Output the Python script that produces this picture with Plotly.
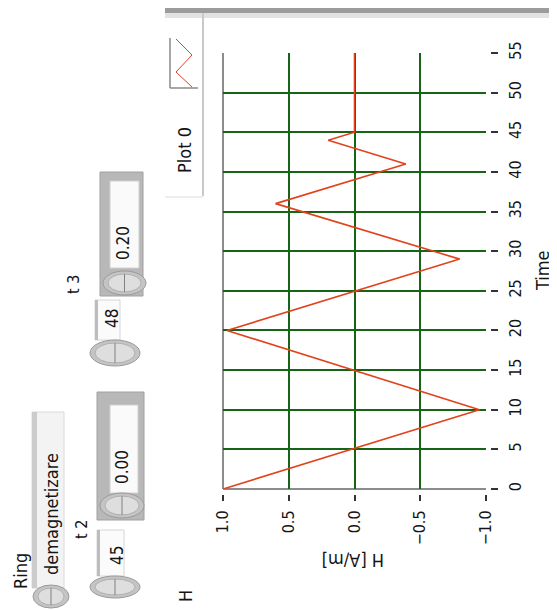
import plotly.graph_objects as go

# ---- data ----
time_vals = [0, 10, 20, 29, 36, 41, 44, 45, 55]
h_vals = [1.0, -0.95, 0.97, -0.80, 0.60, -0.39, 0.20, 0.0, 0.0]

h_ticks = [1.0, 0.5, 0.0, -0.5, -1.0]
h_ticktext = ["1.0", "0.5", "0.0", "\u22120.5", "\u22121.0"]
time_ticks = [0, 5, 10, 15, 20, 25, 30, 35, 40, 45, 50, 55]
h_grid = [0.5, 0.0, -0.5]
time_grid = [5, 10, 15, 20, 25, 30, 35, 40, 45, 50]

# page body has an 8px margin: figure is drawn 8px right/down
OFF = 8
W, H = 557 - OFF, 610 - OFF
L, R, T, B = 223, 490, 53, 494   # plot paper area in reference-image pixels


def px(x):
    return (x - L) / (R - L)


def py(y):
    return (B - y) / (B - T)


FONT = "DejaVu Sans Condensed, DejaVu Sans"
GRID = "#176317"
TXT = "#141414"

fig = go.Figure()
fig.add_trace(go.Scatter(x=h_vals, y=time_vals, mode="lines",
                         line=dict(color="#e2421c", width=1.6),
                         showlegend=False, hoverinfo="skip"))
fig.add_trace(go.Scatter(x=[None], y=[None], xaxis="x2", yaxis="y2",
                         showlegend=False, hoverinfo="skip"))

shapes = []


def rect(x0, y0, x1, y1, fill, line=None, lw=1):
    shapes.append(dict(type="rect", xref="paper", yref="paper",
                       x0=px(x0), x1=px(x1), y0=py(y0), y1=py(y1),
                       fillcolor=fill, layer="below",
                       line=dict(color=line or fill, width=lw if line else 0)))


def ell(x0, y0, x1, y1, fill, line, lw=1):
    shapes.append(dict(type="circle", xref="paper", yref="paper",
                       x0=px(x0), x1=px(x1), y0=py(y0), y1=py(y1),
                       fillcolor=fill, layer="above",
                       line=dict(color=line, width=lw)))


def seg(x0, y0, x1, y1, color, w=1, layer="below"):
    shapes.append(dict(type="line", xref="paper", yref="paper",
                       x0=px(x0), x1=px(x1), y0=py(y0), y1=py(y1),
                       layer=layer, line=dict(color=color, width=w)))


def spinner(x0, y0, x1, y1):
    ell(x0, y0, x1, y1, "#c4c4c4", "#9a9a9a", 1)
    ell(x0 + 5, y0 + 3, x1 - 5, y1 - 3, "#dedede", "#b0b0b0", 1)
    cx = (x0 + x1) / 2
    seg(cx, y0 + 3, cx, y1 - 3, "#808080", 1, "above")


annos = []


def txt(x, y, s, size=18, color=TXT, angle=-90):
    annos.append(dict(x=px(x), y=py(y), xref="paper", yref="paper", text=s,
                      showarrow=False, textangle=angle, xanchor="center",
                      yanchor="middle", font=dict(family=FONT, size=size, color=color)))


# plot frame (left and bottom gray lines)
seg(223, 53, 223, 489, "#8c8c8c", 2)
seg(223, 489, 486, 489, "#8c8c8c", 2)

# top bar and legend panel
rect(165, 7, 557, 13, "#9c9c9c")
rect(165, 13, 557, 18, "#e2e2e2")
seg(203, 13, 203, 196, "#c9c9c9", 2)
seg(165, 197, 203, 197, "#dcdcdc", 1)
seg(553, 18, 553, 604, "#ececec", 1)
# legend icon
seg(170, 38, 170, 88, "#8a8a8a", 1.5)
seg(170, 88, 198, 88, "#8a8a8a", 1.5)
shapes.append(dict(type="path", xref="paper", yref="paper", layer="above",
                   path="M {} {} L {} {} L {} {} L {} {}".format(
                       px(176), py(39), px(192), py(55), px(176), py(72), px(192), py(87)),
                   line=dict(color="#e2421c", width=1)))

# ring control "demagnetizare"
rect(32, 412, 64, 588, "#f3f3f3", "#dadada")
rect(32, 412, 37, 588, "#cccccc")
spinner(33, 585, 69, 608)

# numeric 45
rect(97, 530, 124, 576, "#fbfbfb", "#d6d6d6")
rect(97, 530, 100, 576, "#bdbdbd")
spinner(90, 576, 140, 598)

# numeric 0.00
rect(97, 392, 144, 520, "#b8b8b8", "#a0a0a0")
rect(110, 405, 138, 493, "#fafafa", "#d0d0d0")
spinner(100, 493, 144, 518)

# numeric 0.20
rect(100, 172, 143, 296, "#b8b8b8", "#a0a0a0")
rect(110, 181, 139, 268, "#fafafa", "#d0d0d0")
spinner(103, 271, 146, 295)

# numeric 48
rect(95, 300, 120, 340, "#fbfbfb", "#d6d6d6")
rect(95, 300, 98, 340, "#bdbdbd")
spinner(90, 340, 140, 366)

# texts
txt(20, 571, "Ring")
txt(52, 514, "demagnetizare")
txt(81, 530, "t 2", size=16)
txt(117, 556, "45", size=17)
txt(122, 467, "0.00", size=17)
txt(73, 285, "t 3", size=16)
txt(123, 243, "0.20", size=17)
txt(112, 319, "48", size=17)
txt(185, 596, "H")
txt(185, 150, "Plot 0")
txt(353, 561, "H [A/m]", angle=180)
txt(542, 271, "Time")

fig.update_layout(
    width=W, height=H,
    margin=dict(l=L - OFF, r=W - (R - OFF), t=T - OFF, b=H - (B - OFF), pad=0),
    paper_bgcolor="white", plot_bgcolor="white",
    font=dict(family=FONT, size=16, color=TXT),
    shapes=shapes, annotations=annos,
    xaxis=dict(domain=[0, px(486)], range=[1.0, -1.0], showgrid=True,
               gridcolor=GRID, gridwidth=2, tickvals=h_grid,
               showticklabels=False, ticks="", zeroline=False, showline=False,
               anchor="y"),
    yaxis=dict(domain=[py(489), 1], range=[0, 55], showgrid=True,
               gridcolor=GRID, gridwidth=2, tickvals=time_grid,
               showticklabels=False, ticks="", zeroline=False, showline=False,
               anchor="x"),
    xaxis2=dict(overlaying="x", anchor="free", position=0, side="bottom",
                range=[1.0, -1.0], tickvals=h_ticks, ticktext=h_ticktext,
                ticks="outside", ticklen=6, tickwidth=2, tickcolor="#333333",
                tickangle=-90, showgrid=False, zeroline=False, showline=False,
                ticklabelstandoff=3,
                tickfont=dict(family=FONT, size=16, color=TXT)),
    yaxis2=dict(overlaying="y", anchor="free", position=1, side="right",
                range=[0, 55], tickvals=time_ticks,
                ticks="outside", ticklen=7, tickwidth=2, tickcolor="#333333",
                tickangle=-90, showgrid=False, zeroline=False, showline=False,
                ticklabelstandoff=4,
                tickfont=dict(family=FONT, size=16, color=TXT)),
)

fig.write_html("out.html")
